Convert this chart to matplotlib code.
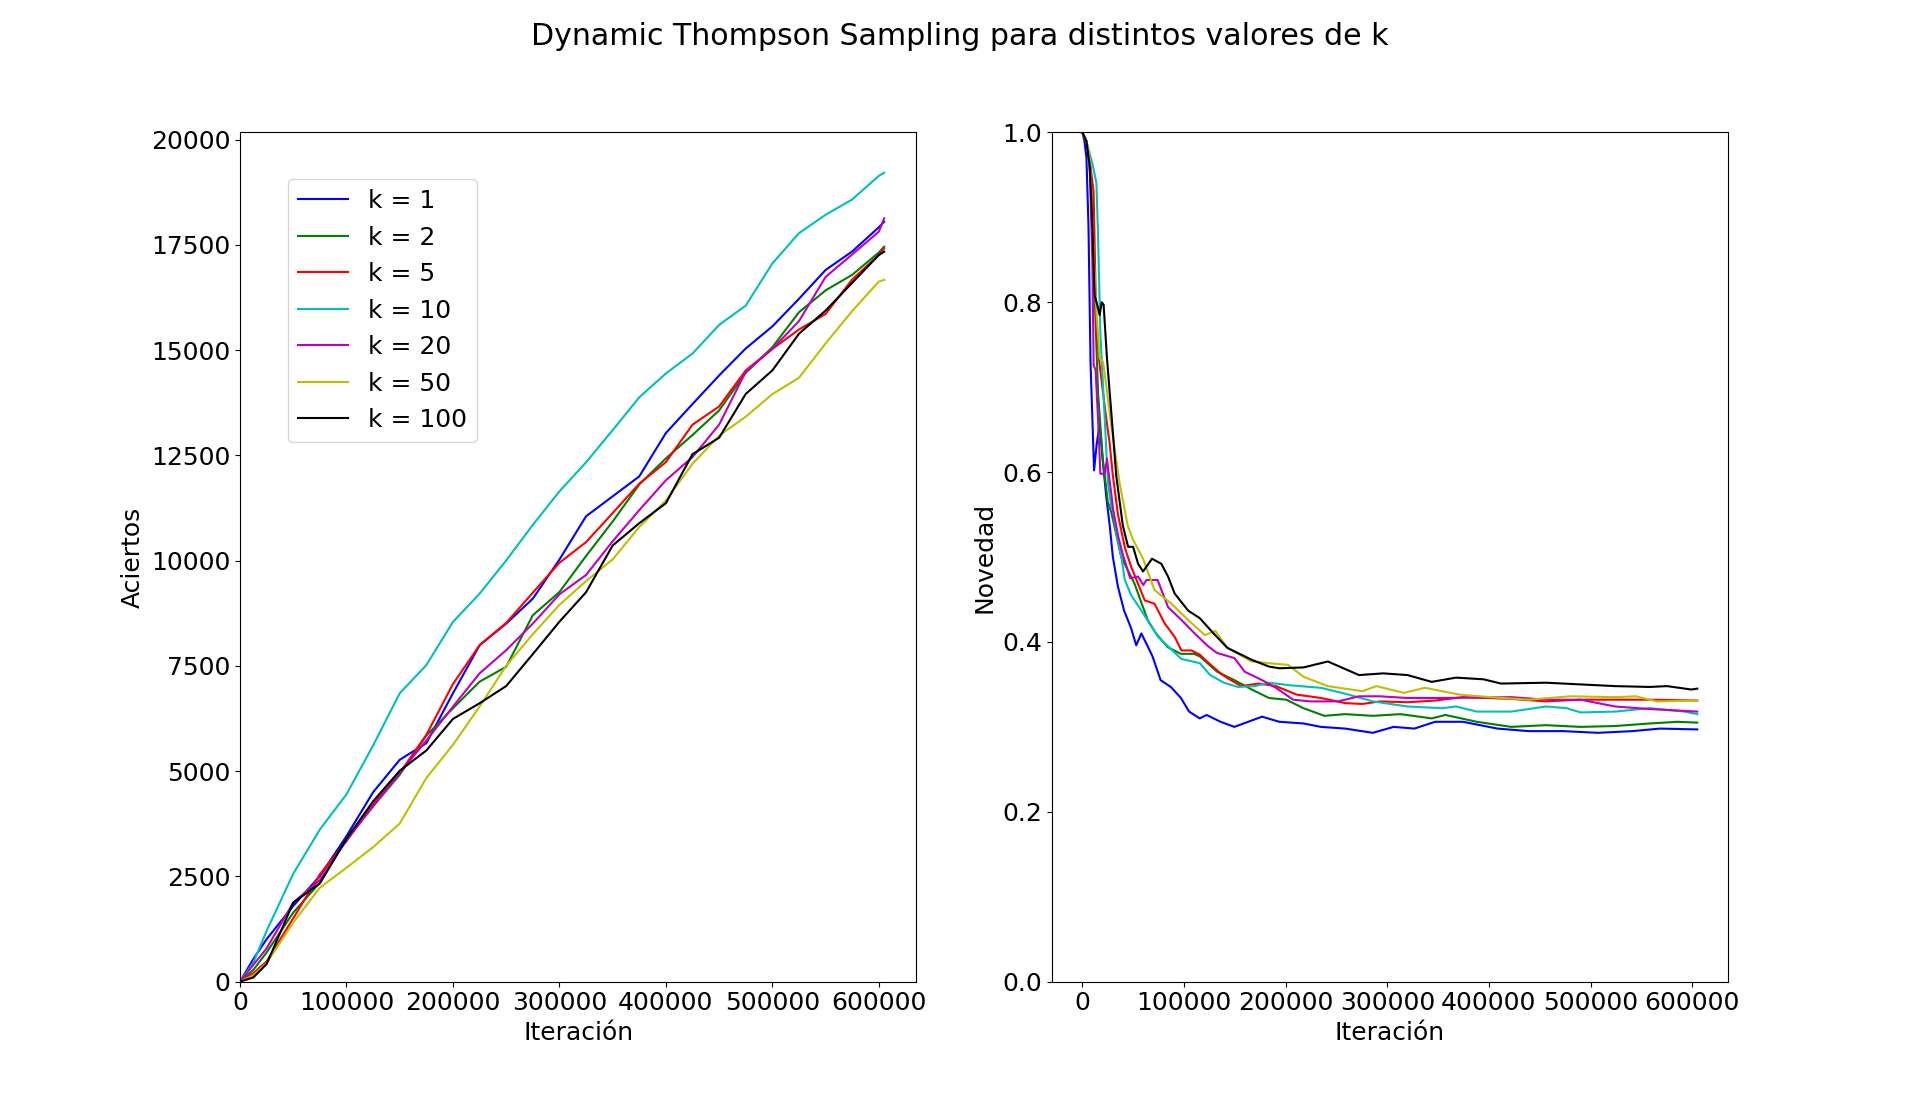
import matplotlib
matplotlib.use('Agg')
import matplotlib.pyplot as plt
import numpy as np

# --- Aciertos (left panel), common iteration grid ---
iter_grid = [0, 12500, 25000, 50000, 75000, 100000, 125000, 150000, 175000, 200000,
             225000, 250000, 275000, 300000, 325000, 350000, 375000, 400000, 425000,
             450000, 475000, 500000, 525000, 550000, 575000, 600000, 605000]

hits_k1 = [0, 536, 1010, 1800, 2509, 3456, 4500, 5270, 5665, 6850, 7990, 8505, 9097,
           10026, 11054, 11528, 12002, 13032, 13720, 14400, 15040, 15565, 16220, 16905,
           17345, 17920, 18050]
hits_k2 = [0, 280, 694, 1641, 2351, 3400, 4166, 4915, 5846, 6493, 7125, 7480, 8703,
           9255, 10110, 10930, 11810, 12430, 12985, 13570, 14460, 15070, 15900, 16420,
           16790, 17320, 17458]
hits_k5 = [0, 200, 481, 1507, 2548, 3337, 4213, 4955, 5862, 7069, 7993, 8521, 9239,
           9950, 10440, 11130, 11830, 12340, 13230, 13663, 14520, 15030, 15490, 15860,
           16680, 17260, 17420]
hits_k10 = [0, 450, 1207, 2564, 3614, 4450, 5610, 6849, 7519, 8545, 9215, 10005, 10850,
            11646, 12336, 13100, 13880, 14447, 14920, 15600, 16060, 17060, 17780, 18215,
            18580, 19140, 19213]
hits_k20 = [0, 400, 789, 1878, 2414, 3361, 4166, 4955, 5728, 6533, 7322, 7874, 8505,
            9200, 9660, 10460, 11200, 11910, 12460, 13230, 14490, 15030, 15690, 16740,
            17275, 17815, 18131]
hits_k50 = [0, 150, 442, 1404, 2233, 2706, 3195, 3756, 4837, 5626, 6533, 7503, 8253,
            8950, 9515, 10030, 10800, 11430, 12300, 12970, 13420, 13955, 14345, 15160,
            15930, 16630, 16668]
hits_k100 = [0, 100, 418, 1878, 2335, 3393, 4284, 5010, 5491, 6241, 6612, 7022, 7780,
             8550, 9250, 10360, 10890, 11365, 12530, 12920, 13960, 14520, 15390, 15940,
             16600, 17260, 17339]

# --- Novedad (right panel), iteration in thousands per series ---
nov_x_k1 = [0, 2, 4, 6, 8, 11.5, 14, 17, 20, 23.5, 27, 30, 35, 41, 48, 53, 58, 63, 69, 77,
            87, 97, 105, 115.5, 122.3, 135.9, 149.6, 163.1, 176.8, 193.8, 217.6, 234.7,
            258.5, 285.8, 306.2, 326.7, 347.1, 374.4, 408.4, 439.1, 473.1, 507.2, 541.2,
            568.4, 605]
nov_k1 = [1.0, 0.99, 0.97, 0.89, 0.73, 0.602, 0.632, 0.657, 0.614, 0.571, 0.536, 0.500,
          0.465, 0.437, 0.416, 0.396, 0.410, 0.398, 0.383, 0.355, 0.347, 0.334, 0.318,
          0.310, 0.314, 0.306, 0.300, 0.306, 0.312, 0.306, 0.304, 0.300, 0.298, 0.293,
          0.300, 0.298, 0.306, 0.306, 0.298, 0.295, 0.295, 0.293, 0.295, 0.298, 0.297]

nov_x_k2 = [0, 4, 7, 9, 12, 15.4, 20, 25, 28.4, 38.2, 51.2, 64.2, 72.4, 83.8, 96.8, 109.9,
            115.5, 132.5, 149.6, 166.6, 183.6, 200.6, 217.6, 238.1, 258.5, 285.8, 313,
            343.7, 357.3, 388, 422, 456.1, 490.1, 524.2, 558.2, 585.5, 605]
nov_k2 = [1.0, 0.99, 0.96, 0.93, 0.81, 0.694, 0.616, 0.565, 0.553, 0.500, 0.469, 0.426,
          0.410, 0.394, 0.386, 0.386, 0.383, 0.365, 0.355, 0.344, 0.334, 0.332, 0.322,
          0.313, 0.315, 0.313, 0.315, 0.310, 0.314, 0.306, 0.300, 0.302, 0.300, 0.301,
          0.304, 0.306, 0.305]

nov_x_k5 = [0, 4, 8, 11, 13.7, 17, 20.3, 23.5, 26.7, 30, 35, 42, 48.2, 61.3, 71, 80.9,
            90.8, 97.4, 107.2, 115.5, 123.6, 135.9, 143.3, 156.3, 173.4, 190.4, 210.8,
            234.7, 258.5, 275.6, 292.6, 319.9, 347.1, 374.4, 422, 456.1, 490.1, 558.2, 605]
nov_k5 = [1.0, 0.99, 0.96, 0.93, 0.773, 0.726, 0.694, 0.663, 0.635, 0.596, 0.55, 0.51,
          0.488, 0.449, 0.445, 0.422, 0.406, 0.390, 0.390, 0.385, 0.376, 0.363, 0.357,
          0.348, 0.351, 0.348, 0.338, 0.334, 0.328, 0.327, 0.330, 0.329, 0.331, 0.335,
          0.333, 0.330, 0.332, 0.332, 0.331]

nov_x_k10 = [0, 5, 10.5, 13.8, 15.4, 17.7, 21.9, 25.2, 28.5, 30.2, 33.4, 38.4, 41.7, 48,
             58, 74.5, 97.4, 115.5, 125.7, 139.3, 153, 170, 183.6, 204, 234.7, 261.9,
             285.8, 319.9, 353.9, 367.6, 388, 422, 456.1, 476.5, 490.1, 524.2, 558.2,
             592.3, 605]
nov_k10 = [1.0, 0.985, 0.96, 0.94, 0.88, 0.763, 0.665, 0.587, 0.559, 0.555, 0.528, 0.500,
           0.473, 0.455, 0.437, 0.406, 0.380, 0.375, 0.361, 0.352, 0.347, 0.348, 0.352,
           0.349, 0.346, 0.338, 0.330, 0.324, 0.322, 0.324, 0.318, 0.318, 0.324, 0.322,
           0.317, 0.318, 0.322, 0.318, 0.315]

nov_x_k20 = [0, 4, 7.2, 9.8, 11.1, 13, 15.4, 17.7, 22, 24.2, 26.1, 28.4, 30.2, 35.1, 40,
             47, 54.8, 60, 63, 74, 84.3, 97.4, 110.5, 123.6, 132.5, 149.6, 159.7, 176.8,
             190.4, 207.4, 224.5, 251.7, 272.2, 292.6, 319.9, 353.9, 422, 456.1, 490.1,
             524.2, 558.2, 605]
nov_k20 = [1.0, 0.99, 0.96, 0.85, 0.726, 0.72, 0.663, 0.598, 0.598, 0.616, 0.596, 0.575,
           0.556, 0.525, 0.502, 0.475, 0.477, 0.467, 0.473, 0.473, 0.441, 0.426, 0.410,
           0.395, 0.387, 0.381, 0.365, 0.355, 0.346, 0.332, 0.330, 0.330, 0.336, 0.336,
           0.334, 0.334, 0.335, 0.332, 0.332, 0.324, 0.321, 0.318]

nov_x_k50 = [0, 4, 7.2, 10.5, 13.7, 17, 20.3, 23.5, 28.4, 36.5, 44.6, 50, 59.7, 71, 87.6,
             104, 120.4, 130.8, 142.7, 166.6, 183.6, 202.4, 217.6, 241.5, 275.6, 289.2,
             316.4, 336.9, 371, 401.6, 439.1, 479.9, 524.2, 544.6, 565, 605]
nov_k50 = [1.0, 0.99, 0.969, 0.871, 0.792, 0.734, 0.730, 0.702, 0.655, 0.588, 0.537, 0.52,
           0.498, 0.461, 0.445, 0.426, 0.408, 0.413, 0.393, 0.377, 0.375, 0.373, 0.359,
           0.348, 0.342, 0.348, 0.340, 0.346, 0.338, 0.335, 0.332, 0.336, 0.335, 0.336,
           0.330, 0.331]

nov_x_k100 = [0, 4, 7.2, 9.8, 12.1, 15, 17, 19, 20.9, 24.2, 28.4, 33.3, 39.8, 45, 49.9,
              54.8, 59.7, 68.5, 77.7, 84.3, 90.8, 104, 115.5, 129.1, 142.7, 166.6, 183.6,
              193.8, 217.6, 241.5, 272.2, 296, 319.9, 343.7, 367.6, 394.8, 411.8, 456.1,
              490.1, 524.2, 558.2, 575.3, 599.1, 605]
nov_k100 = [1.0, 0.989, 0.961, 0.890, 0.808, 0.795, 0.785, 0.800, 0.797, 0.734, 0.671,
            0.596, 0.537, 0.512, 0.512, 0.492, 0.483, 0.498, 0.492, 0.477, 0.457, 0.437,
            0.428, 0.410, 0.393, 0.379, 0.371, 0.369, 0.370, 0.377, 0.361, 0.363, 0.361,
            0.353, 0.358, 0.356, 0.351, 0.352, 0.350, 0.348, 0.347, 0.348, 0.344, 0.345]

k_values = [1, 2, 5, 10, 20, 50, 100]
colors = ['b', 'g', 'r', 'c', 'm', 'y', 'k']
hits = [hits_k1, hits_k2, hits_k5, hits_k10, hits_k20, hits_k50, hits_k100]
nov_x = [nov_x_k1, nov_x_k2, nov_x_k5, nov_x_k10, nov_x_k20, nov_x_k50, nov_x_k100]
nov_y = [nov_k1, nov_k2, nov_k5, nov_k10, nov_k20, nov_k50, nov_k100]


def main():
    plt.rcParams['font.size'] = 18
    fig, (ax1, ax2) = plt.subplots(1, 2, figsize=(19.2, 11.03), dpi=100)
    fig.suptitle("Dynamic Thompson Sampling para distintos valores de k")

    # aciertos acumulados
    for k, c, h in zip(k_values, colors, hits):
        ax1.plot(iter_grid, h, color=c, label="k = %d" % k)
    ax1.set_xlim(left=0)
    ax1.set_ylim(bottom=0)
    ax1.set_xlabel("Iteración")
    ax1.set_ylabel("Aciertos")
    ax1.legend(loc='upper left', bbox_to_anchor=(0.071, 0.945), borderaxespad=0)

    # novedad
    for c, xs, ys in zip(colors, nov_x, nov_y):
        ax2.plot(np.array(xs) * 1000, ys, color=c)
    ax2.set_ylim(0, 1)
    ax2.set_xlabel("Iteración")
    ax2.set_ylabel("Novedad")

    fig.savefig("out.png", dpi=100)


if __name__ == "__main__":
    main()
